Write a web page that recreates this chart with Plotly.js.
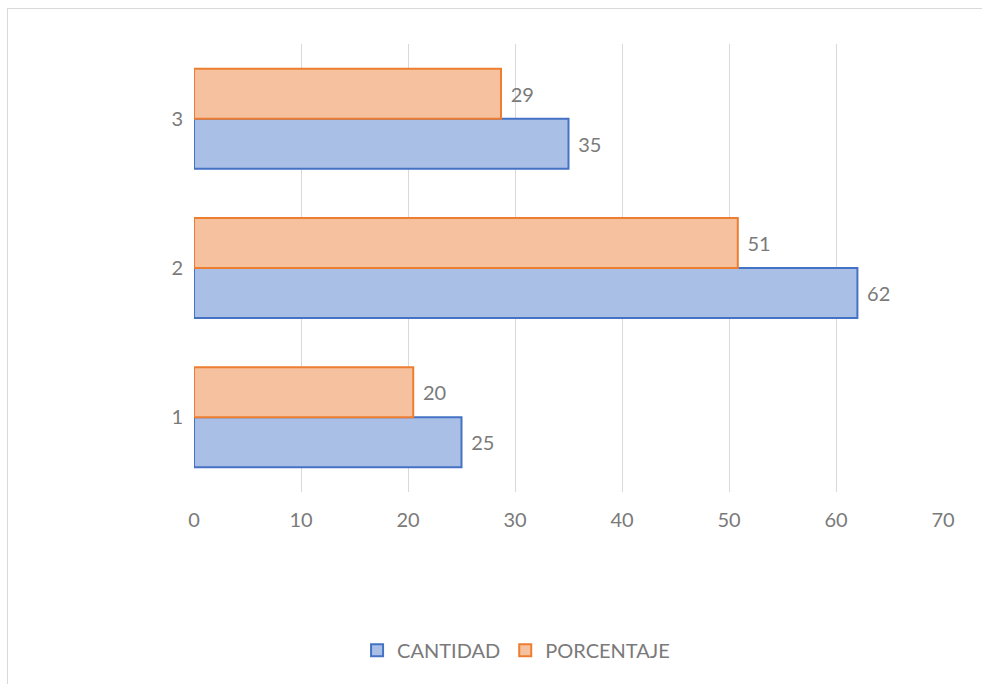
<!DOCTYPE html>
<html>
<head>
<meta charset="utf-8">
<script src="https://cdn.plot.ly/plotly-3.0.1.min.js"></script>
<style>
  html, body { margin: 0; padding: 0; background: #ffffff; overflow: hidden; }
  #frame { position: absolute; left: 7px; top: 8px; width: 1100px; height: 900px;
           border: 1px solid #d9d9d9; box-sizing: border-box; }
  #chart { position: absolute; left: 0; top: 0; width: 982px; height: 684px; }
</style>
</head>
<body>
<div id="frame"></div>
<div id="chart"></div>
<script>
// Categories on the vertical axis
const categories = ['1', '2', '3'];
// Counts per category
const cantidad = [25, 62, 35];
// Share of the total (122), in percent
const porcentaje = [20.49, 50.82, 28.69];
// Horizontal axis ticks
const xTicks = [0, 10, 20, 30, 40, 50, 60, 70];

const textFont = { family: 'Lato, "Open Sans", sans-serif', size: 20, color: '#7a7a7a' };

const traces = [
  {
    type: 'bar', orientation: 'h', name: 'CANTIDAD',
    y: categories, x: cantidad,
    marker: { color: '#aabfe6', line: { color: '#4472c4', width: 2 } },
    texttemplate: '\u2004%{x:.0f}', textposition: 'outside', cliponaxis: false,
    textfont: textFont, hoverinfo: 'x+name'
  },
  {
    type: 'bar', orientation: 'h', name: 'PORCENTAJE',
    y: categories, x: porcentaje,
    marker: { color: '#f6c19f', line: { color: '#ed7d31', width: 2 } },
    texttemplate: '\u2004%{x:.0f}', textposition: 'outside', cliponaxis: false,
    textfont: textFont, hoverinfo: 'x+name'
  }
];

const layout = {
  width: 982, height: 684,
  paper_bgcolor: 'rgba(0,0,0,0)', plot_bgcolor: 'rgba(0,0,0,0)',
  margin: { l: 194, r: 39, t: 44, b: 192 },
  barmode: 'group', bargap: 0.33, bargroupgap: 0,
  font: textFont,
  showlegend: true,
  legend: {
    orientation: 'h', x: 0.43, xanchor: 'center', y: -0.353, yanchor: 'middle',
    font: textFont, traceorder: 'normal'
  },
  xaxis: {
    range: [0, 70], tickvals: xTicks, ticktext: xTicks.map(String),
    showgrid: true, gridcolor: '#d9d9d9', gridwidth: 1,
    zeroline: false, showline: false, ticks: '',
    ticklabelstandoff: 14, tickfont: textFont, fixedrange: true
  },
  yaxis: {
    type: 'category', categoryorder: 'array', categoryarray: categories,
    range: [-0.5, 2.5],
    showgrid: false, zeroline: false, showline: false, ticks: '',
    ticklabelstandoff: 10, tickfont: textFont, fixedrange: true
  }
};

Plotly.newPlot('chart', traces, layout, { displayModeBar: false, staticPlot: true });
</script>
</body>
</html>
